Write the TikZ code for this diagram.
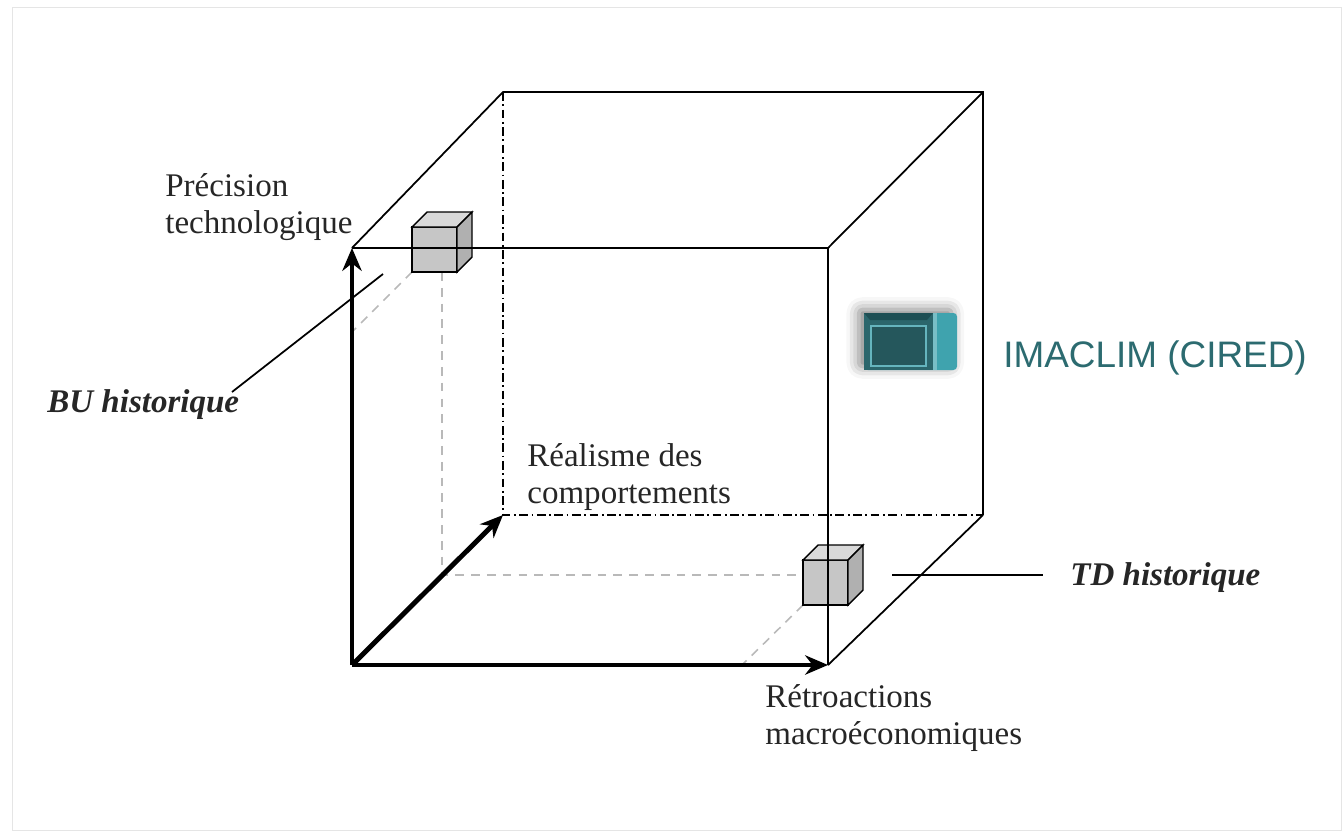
\documentclass[tikz,border=0pt]{standalone}
\usepackage{fontspec}
\setmainfont{Liberation Serif}
\newfontfamily\labelsans{Liberation Sans}
\usetikzlibrary{arrows.meta,shadows.blur}
\definecolor{tealtext}{HTML}{2C6B70}
\definecolor{tealdark}{HTML}{1E4F54}
\definecolor{tealface}{HTML}{2B666C}
\definecolor{teallight}{HTML}{3FA3AE}

\tikzset{
  edge/.style={line width=1pt},
  hidden/.style={line width=0.9pt, dash pattern=on 5pt off 2pt on 1pt off 2pt},
  guide/.style={gray!55, line width=0.9pt, dash pattern=on 5pt off 4pt},
  axis/.style={line width=2.8pt, -{Stealth[length=13pt,width=11pt]}},
  lbl/.style={font=\fontsize{18.8}{20.5}\selectfont, align=left, anchor=base west,
    inner sep=0pt, text=black!85},
  tag/.style={lbl, font=\fontsize{18.8}{20.5}\selectfont\bfseries\itshape},
}

\begin{document}
\begin{tikzpicture}[x=0.02cm,y=-0.02cm]
  \useasboundingbox (0,0) rectangle (1342,832);
  \draw[gray!20] (12,7) rectangle (1341,830);

  % corners of the big cube
  \coordinate (O) at (352,665);
  \coordinate (X) at (828,665);
  \coordinate (Y) at (352,248);
  \coordinate (XY) at (828,248);
  \coordinate (Z) at (503,515);
  \coordinate (ZX) at (983,515);
  \coordinate (ZY) at (503,92);
  \coordinate (ZXY) at (983,92);

  % projections of the two models
  \coordinate (bu) at (412,272);
  \coordinate (td) at (803,605);
  \coordinate (buleft) at (352,332);
  \coordinate (budown) at (442,272);
  \coordinate (bufloor) at (442,575);
  \coordinate (tdfloor) at (742,665);
  \draw[guide] (bu) -- (buleft);
  \draw[guide] (budown) -- (bufloor) -- (803,575);
  \draw[guide] (td) -- (tdfloor);

  % small cubes
  \foreach \cx/\cy in {412/272, 803/605} {
    \filldraw[fill=gray!45, line width=0.8pt] (\cx,\cy) rectangle ++(45,-45);
    \filldraw[fill=gray!30, line width=0.8pt] (\cx,\cy-45) -- ++(15,-15) -- ++(45,0) -- ++(-15,15) -- cycle;
    \filldraw[fill=gray!62, line width=0.8pt] (\cx+45,\cy) -- ++(15,-15) -- ++(0,-45) -- ++(-15,15) -- cycle;
  }

  % hidden edges
  \draw[hidden] (ZY) -- (Z) -- (ZX);
  % visible edges
  \draw[edge] (Y) -- (XY) -- (X);
  \draw[edge] (Y) -- (ZY) -- (ZXY) -- (ZX);
  \draw[edge] (XY) -- (ZXY);
  \draw[edge] (X) -- (ZX);

  % axes
  \draw[axis] (O) -- (Y);
  \draw[axis] (O) -- (X);
  \draw[axis] (O) -- (Z);

  % labels (base = last line)
  \node[lbl] (prec) at (165,233) {Précision\\technologique};
  \node[lbl] (real) at (527,503) {Réalisme des\\comportements};
  \node[lbl] (retro) at (765,744) {Rétroactions\\macroéconomiques};
  \node[tag] (bulbl) at (47,412) {BU historique};
  \node[tag] (tdlbl) at (1070,585) {TD historique};

  \coordinate (buline) at (232,392);
  \coordinate (bucube) at (383,274);
  \draw[edge] (buline) -- (bucube);
  \coordinate (tdline) at (892,575);
  \coordinate (tdend) at (1043,575);
  \draw[edge] (tdline) -- (tdend);

  % IMACLIM block
  \fill[teallight, rounded corners=2pt,
    blur shadow={shadow xshift=-3pt, shadow yshift=2pt, shadow blur radius=7pt, shadow opacity=50}]
    (864,313) rectangle (957,370);
  \fill[teallight!70!white] (933,313) rectangle (937,370);
  \fill[tealface] (864,313) rectangle (933,370);
  \fill[tealdark] (864,313) -- (933,313) -- (927,320) -- (870,320) -- cycle;
  \filldraw[draw=teallight!80, line width=1pt, fill=tealface!85!black] (871,326) rectangle (926,366);
  \node[font=\labelsans\fontsize{21}{24}\selectfont, text=tealtext, anchor=base west, inner sep=0pt]
    (imaclim) at (1003,367) {IMACLIM (CIRED)};
\end{tikzpicture}
\end{document}
